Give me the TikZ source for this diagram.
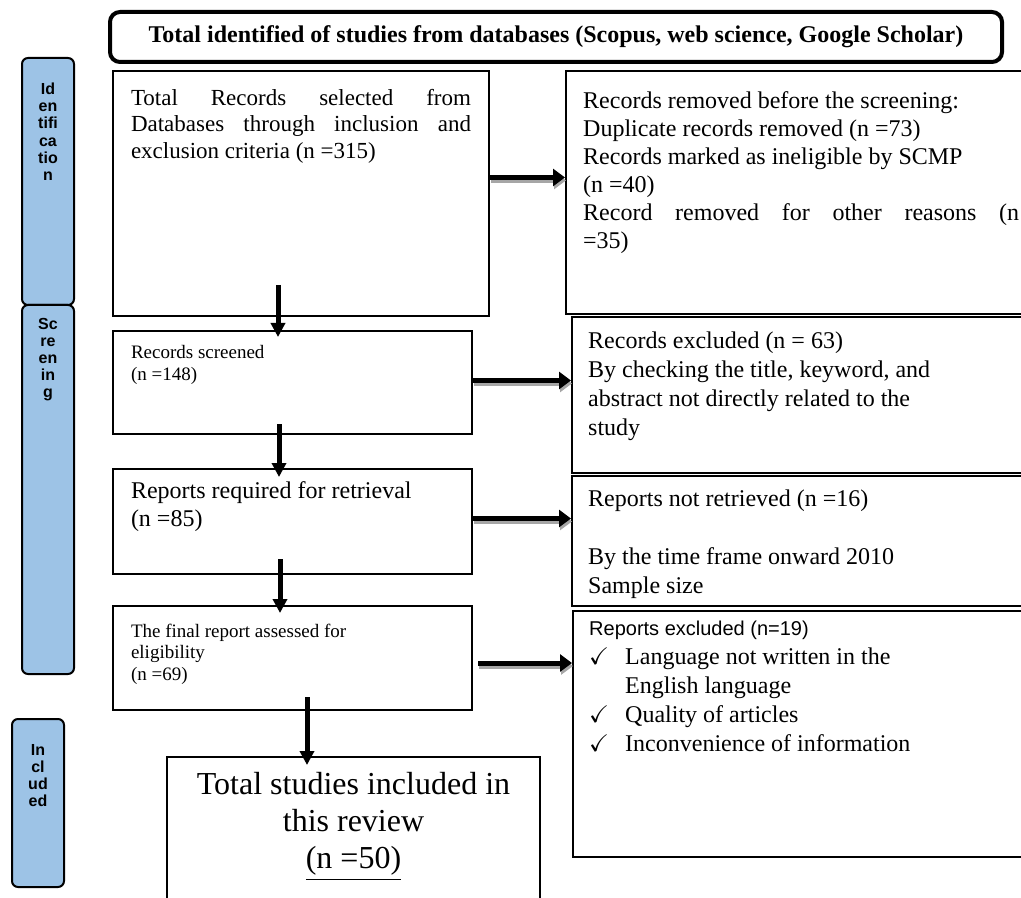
\documentclass[tikz,border=0pt]{standalone}
\usepackage{fontspec}
\setmainfont{Liberation Serif}
\setsansfont{Liberation Sans}
\usepackage{amssymb}
\usetikzlibrary{arrows.meta,positioning}

\definecolor{stageblue}{RGB}{157,195,230}

\begin{document}
\begin{tikzpicture}[x=0.5pt, y=-0.5pt,
    box/.style={draw, line width=1pt, anchor=north west, inner xsep=9pt},
    rbox/.style={draw, line width=1.2pt, anchor=north west, inner xsep=8pt},
    stage/.style={draw, line width=1pt, fill=stageblue, rounded corners=3pt, anchor=north west,
        inner xsep=0pt, inner ysep=6.5pt, font=\sffamily\bfseries\fontsize{8}{8.6}\selectfont},
    titlebox/.style={draw, line width=2pt, rounded corners=5pt, minimum width=446pt, minimum height=25pt,
        font=\bfseries\fontsize{12}{14}\selectfont},
    sidearrow/.style={-{Triangle[length=6pt,width=8.5pt]}, line width=2.5pt},
    sideshadow/.style={sidearrow, draw=black!35, transform canvas={xshift=0.5pt,yshift=-1.5pt}},
    downarrow/.style={-{Triangle[length=7pt,width=7pt]}, line width=2.5pt}
]
\useasboundingbox (0,0) rectangle (1021,898);

% title
\node[titlebox] (title) at (556,37) {Total identified of studies from databases (Scopus, web science, Google Scholar)};

% stages
\node[stage, inner ysep=12.5pt] (idlab) at (21,57) {\parbox[t][98.5pt][t]{26pt}{\centering Id\\en\\tifi\\ca\\tio\\n}};
\node[stage] (scrlab) at (21,304) {\parbox[t][171.5pt][t]{26pt}{\centering Sc\\re\\en\\in\\g}};
\node[stage, inner ysep=12.5pt] (inclab) at (11,718) {\parbox[t][59pt][t]{26pt}{\centering In\\cl\\ud\\ed}};

% left column
\node[box, inner ysep=9pt, font=\fontsize{11.5}{13.25}\selectfont] (rec) at (112,70)
    {\parbox[t][104.5pt][t]{170pt}{Total Records selected from\linebreak Databases through inclusion and\linebreak exclusion criteria (n =315)}};
\node[box, inner ysep=7pt, font=\fontsize{9.5}{11}\selectfont] (scr) at (112,330)
    {\parbox[t][37.5pt][t]{161.5pt}{Records screened\\(n =148)}};
\node[box, inner ysep=6.5pt, font=\fontsize{12}{14}\selectfont] (ret) at (112,468)
    {\parbox[t][39.5pt][t]{161.5pt}{Reports required for retrieval\\(n =85)}};
\node[box, inner ysep=9pt, font=\fontsize{9.5}{10.75}\selectfont] (elig) at (112,605)
    {\parbox[t][34pt][t]{161.5pt}{The final report assessed for\\eligibility\\(n =69)}};
\node[box, inner ysep=7.5pt, font=\fontsize{16}{18.5}\selectfont] (incl) at (166,756)
    {\parbox[t][59.5pt][t]{168.5pt}{\centering Total studies included in\\this review\\\underline{(n =50)}}};

% right column
\node[rbox, inner xsep=8.5pt, inner ysep=10pt, font=\fontsize{12}{14}\selectfont] (rem) at (565,70)
    {\parbox[t][101.5pt][t]{218pt}{Records removed before the screening:\\Duplicate records removed (n =73)\\Records marked as ineligible by SCMP\\(n =40)\\Record removed for other reasons (n\linebreak =35)}};
\node[rbox, inner ysep=7.5pt, font=\fontsize{12}{14.5}\selectfont] (exc) at (571,316)
    {\parbox[t][63pt][t]{218pt}{Records excluded (n = 63)\\By checking the title, keyword, and\\abstract not directly related to the\\study}};
\node[rbox, inner ysep=7pt, font=\fontsize{12}{14.5}\selectfont] (notret) at (571,475)
    {\parbox[t][51pt][t]{218pt}{Reports not retrieved (n =16)\\[14.5pt]By the time frame onward 2010\\Sample size}};
\node[rbox, inner ysep=5pt, font=\fontsize{12}{14.5}\selectfont] (repexc) at (572,610)
    {\parbox[t][113pt][t]{218pt}{{\sffamily\fontsize{10}{12}\selectfont Reports excluded (n=19)}\\
    \makebox[18pt][l]{$\checkmark$}Language not written in the\\
    \hspace*{18pt}English language\\
    \makebox[18pt][l]{$\checkmark$}Quality of articles\\
    \makebox[18pt][l]{$\checkmark$}Inconvenience of information}};

% side arrows
\coordinate (a1) at ([yshift=8pt]rec.east);
\coordinate (a2) at ([yshift=1pt]scr.east);
\coordinate (a3) at ([yshift=1.5pt]ret.east);
\coordinate (a4) at ([shift={(2.5pt,-2.5pt)}]elig.east);
\foreach \s/\t in {a1/rem, a2/exc, a3/notret, a4/repexc} {
    \draw[sideshadow] (\s) -- (\s -| \t.west);
    \draw[sidearrow] (\s) -- (\s -| \t.west);
}

% down arrows
\coordinate (v1) at ([shift={(-11.5pt,16pt)}]rec.south);
\coordinate (v2) at ([shift={(-6.75pt,5.5pt)}]scr.south);
\coordinate (v3) at ([shift={(-6.25pt,8pt)}]ret.south);
\coordinate (v4) at ([shift={(7.25pt,7pt)}]elig.south);
\coordinate (w1) at (v1 |- scr.north);
\coordinate (w2) at (v2 |- ret.north);
\coordinate (w3) at (v3 |- elig.north);
\coordinate (w4) at (v4 |- incl.north);
\draw[downarrow] (v1) -- ([yshift=-3.5pt]w1);
\draw[downarrow] (v2) -- ([yshift=-4.5pt]w2);
\draw[downarrow] (v3) -- ([yshift=-4pt]w3);
\draw[downarrow] (v4) -- ([yshift=-4.5pt]w4);
\end{tikzpicture}
\end{document}
